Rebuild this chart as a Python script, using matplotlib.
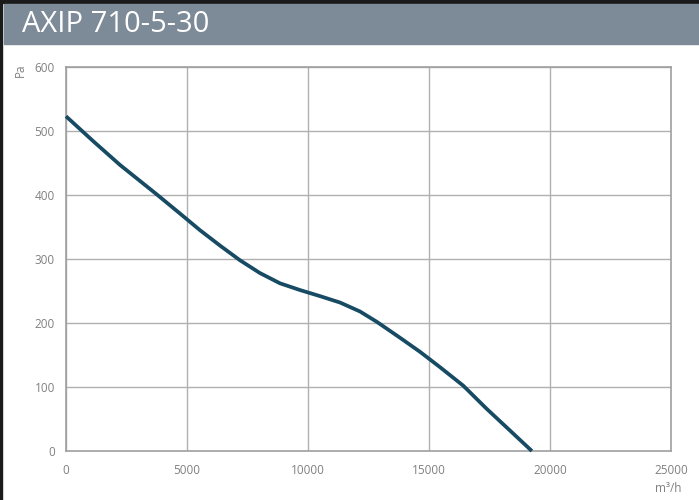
import matplotlib
matplotlib.use("Agg")
import matplotlib.pyplot as plt
from matplotlib.patches import Rectangle

title = "AXIP 710-5-30"
flow = [0, 1128, 2231, 3748, 4711, 5537, 6363, 7190, 8016, 8843, 9669,
        10495, 11322, 12148, 12837, 13800, 14627, 15041, 15454, 16417, 17381, 18346, 19250]
pressure = [523, 484, 447, 401, 371, 345, 321, 298, 278, 262, 251.5,
            242, 232, 218, 202, 177, 155, 143, 131, 102, 66, 32, 0]
xticks = [0, 5000, 10000, 15000, 20000, 25000]
yticks = [0, 100, 200, 300, 400, 500, 600]
ylabel = "Pa"
xlabel = "m³/h"

plt.rcParams['font.family'] = ['Open Sans', 'DejaVu Sans']

fig = plt.figure(figsize=(6.99, 5.0), dpi=100)
fig.patch.set_facecolor('white')

# frame lines and title bar
fig.patches.append(Rectangle((0, 0.994), 1, 0.006, transform=fig.transFigure, color='#1a1a1a', zorder=0))
fig.patches.append(Rectangle((0, 0), 0.003, 1, transform=fig.transFigure, color='#1a1a1a', zorder=0))
fig.patches.append(Rectangle((0.006, 0.912), 0.994, 0.08, transform=fig.transFigure, color='#7d8a98', zorder=0))
fig.text(0.031, 0.952, title, color='white', fontsize=21, va='center', ha='left')

ax = fig.add_axes([66/699, 49/500, 605/699, 384/500])
ax.plot(flow, pressure, color='#174a63', lw=2.7, solid_joinstyle='round',
        solid_capstyle='butt', zorder=3, clip_on=False)
ax.set_xlim(0, 25000)
ax.set_ylim(0, 600)
ax.set_xticks(xticks)
ax.set_yticks(yticks)
ax.grid(True, color='#b0b0b0', lw=1)
for s in ax.spines.values():
    s.set_color('#a0a0a0')
    s.set_linewidth(1.2)
ax.tick_params(length=0, colors='#808080', labelsize=8.5, pad=8)
ax.tick_params(axis='x', pad=9)

fig.text(20/699, 1 - 70/500, ylabel, rotation=90, color='#808080', fontsize=8.5, ha='center', va='center')
fig.text(668/699, 1 - 488/500, xlabel, color='#808080', fontsize=8.5, ha='center', va='center')

fig.savefig("out.png", dpi=100, facecolor='white')
